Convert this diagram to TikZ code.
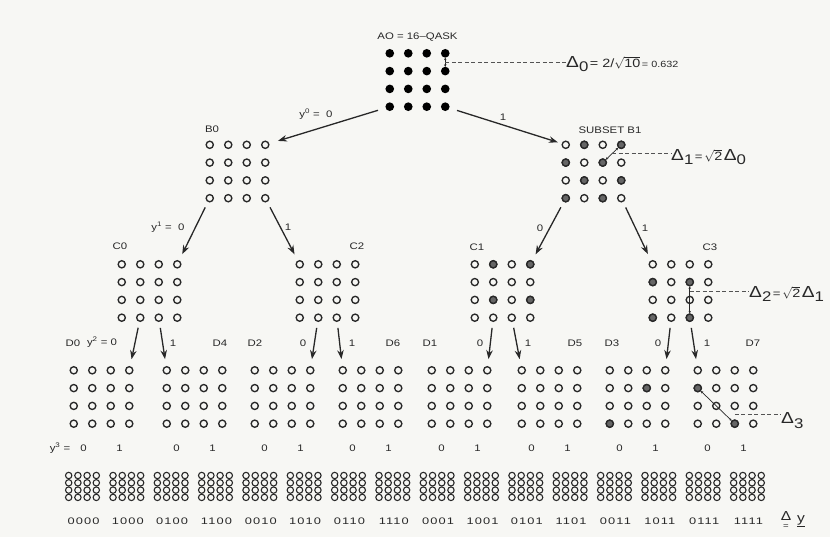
\documentclass[tikz,border=0pt]{standalone}
\usepackage{fontspec}
\setmainfont{Liberation Sans}[FakeStretch=1.2]
\newfontfamily\bitfont{Liberation Sans}[FakeStretch=1.35,LetterSpace=12]
\usetikzlibrary{arrows.meta,calc}

\definecolor{paper}{RGB}{247,247,244}
\definecolor{ink}{RGB}{40,40,40}

\tikzset{
  pt/.style={circle,draw=ink,line width=1.35pt,minimum size=7.2pt,inner sep=0pt},
  ptA/.style={pt,fill=black,draw=black},
  hitpt/.style={fill=black!60,draw=ink,line width=1.35pt},
  lbl/.style={font=\fontsize{9.5}{10}\selectfont,inner sep=0pt,text=ink},
  branch/.style={line width=1.3pt,draw=ink,-{Stealth[length=9pt,width=6.5pt]},
    shorten <=6pt,shorten >=7pt},
  gap/.style={line width=0.7pt,draw=ink,
    {Stealth[length=2.5pt,width=2.5pt]}-{Stealth[length=2.5pt,width=2.5pt]}},
  guide/.style={line width=0.7pt,draw=ink!80,dash pattern=on 4pt off 2.5pt},
}

% 4x4 subset of points, named <set>-<row>-<col>
\newcommand{\qset}[4][pt]{%
  \foreach \r in {1,...,4}
    \foreach \c in {1,...,4}
      \node[#1] (#2-\r-\c) at ({#3+(\c-2.5)*18.5},{#4+(\r-2.5)*17.8}) {};
}
% mark the points of a subset
\newcommand{\hit}[2]{%
  \foreach \p in {#2}
    \filldraw[hitpt] (#1-\p) circle (3.6pt);
}
\newcommand{\dlt}[1]{{\fontsize{16}{16}\selectfont Δ}\raisebox{-4.5pt}{\fontsize{14}{14}\selectfont #1}}

\begin{document}
\begin{tikzpicture}[x=1pt,y=-1pt]

  \fill[paper] (0,0) rectangle (830,537);
  \useasboundingbox (0,0) rectangle (830,537);

  % ---- A0 = 16-QASK ----
  \qset[ptA]{A0}{417.5}{80}
  \node[lbl] (A0name) at (417.5,37) {AO = 16--QASK};
  \draw[gap] (A0-1-4) -- (A0-2-4);
  \coordinate (m0) at ($(A0-1-4)!0.5!(A0-2-4)$);
  \node[lbl,anchor=base west] (delta0) at (566,67.5)
    {\dlt{0}\,{\fontsize{12}{12}\selectfont = 2/$\sqrt{\mbox{10}}$}\,{\fontsize{9}{9}\selectfont = 0.632}};
  \draw[guide] (m0) -- (m0 -| delta0.west);

  % ---- B0 and B1 ----
  \qset{B0}{237.5}{171.5}
  \qset{B1}{593.5}{171.5}
  \hit{B1}{1-2,1-4,2-1,2-3,3-2,3-4,4-1,4-3}
  \node[lbl] (B0name) at (212,129) {B0};
  \node[lbl] (B1name) at (610,130) {SUBSET B1};

  \draw[branch,shorten <=8pt,shorten >=9pt] (A0-4-1) -- (B0-1-4);
  \draw[branch,shorten <=8pt,shorten >=4pt] (A0-4-4) -- (B1-1-1);
  \node[lbl] (y0) at (316,114) {y\textsuperscript{0} =\ \ 0};
  \node[lbl] (y0one) at (503,117) {1};

  \draw[gap] (B1-2-3) -- (B1-1-4);
  \coordinate (m1) at ($(B1-2-3)!0.5!(B1-1-4)$);
  \node[lbl,anchor=base west] (delta1) at (671,160.5)
    {\dlt{1}\,{\fontsize{11}{11}\selectfont =}\,{\fontsize{12}{12}\selectfont$\sqrt{\mbox{2}}$}\,\dlt{0}};
  \draw[guide] (m1) -- (m1 -| delta1.west);

  % ---- C0 .. C3 ----
  \qset{C0}{149.5}{291}
  \qset{C2}{327.5}{291}
  \qset{C1}{502.5}{291}
  \qset{C3}{680.5}{291}
  \hit{C1}{1-2,1-4,3-2,3-4}
  \hit{C3}{2-1,2-3,4-1,4-3}
  \node[lbl] (C0name) at (120,246) {C0};
  \node[lbl] (C2name) at (357,246) {C2};
  \node[lbl] (C1name) at (477,247) {C1};
  \node[lbl] (C3name) at (710,247) {C3};

  \draw[branch] (B0-4-1) -- (C0-1-4);
  \draw[branch] (B0-4-4) -- (C2-1-1);
  \draw[branch] (B1-4-1) -- (C1-1-4);
  \draw[branch] (B1-4-4) -- (C3-1-1);
  \node[lbl] (y1) at (168,227) {y\textsuperscript{1} =\ \ 0};
  \node[lbl] (y1one) at (288,227) {1};
  \node[lbl] (y1zero) at (540,228) {0};
  \node[lbl] (y1oneb) at (645,228) {1};

  \draw[gap] (C3-2-3) -- (C3-4-3);
  \coordinate (m2) at ($(C3-2-3)!0.5!(C3-3-3)$);
  \node[lbl,anchor=base west] (delta2) at (749,297.5)
    {\dlt{2}\,{\fontsize{11}{11}\selectfont =}\,{\fontsize{12}{12}\selectfont$\sqrt{\mbox{2}}$}\,\dlt{1}};
  \draw[guide] (m2) -- (m2 -| delta2.west);

  % ---- D0 .. D7 ----
  \foreach \d/\x in {D0/101.5,D4/194.5,D2/282.5,D6/370.5,D1/459.5,D5/549.5,D3/637.5,D7/725.5} {
    \qset{\d}{\x}{397}
  }
  \hit{D3}{2-3,4-1}
  \hit{D7}{2-1,4-3}
  \foreach \d/\x in {D0/73,D4/220,D2/255,D6/393,D1/430,D5/575,D3/612,D7/753} {
    \node[lbl] (\d name) at (\x,343) {\d};
  }

  \draw[branch] (C0-4-2) -- (D0-1-4);
  \draw[branch] (C0-4-3) -- (D4-1-1);
  \draw[branch] (C2-4-2) -- (D2-1-4);
  \draw[branch] (C2-4-3) -- (D6-1-1);
  \draw[branch] (C1-4-2) -- (D1-1-4);
  \draw[branch] (C1-4-3) -- (D5-1-1);
  \draw[branch] (C3-4-2) -- (D3-1-4);
  \draw[branch] (C3-4-3) -- (D7-1-1);
  \node[lbl] (y2) at (102,342) {y\textsuperscript{2} = 0};
  \foreach \b/\x [count=\k] in {1/173,0/303,1/352,0/480,1/528,0/658,1/707} {
    \node[lbl] (y2bit\k) at (\x,343) {\b};
  }

  \draw[gap] (D7-2-1) -- (D7-4-3);
  \coordinate (m3) at ($(D7-3-3)!0.5!(D7-4-3)$);
  \node[lbl,anchor=base west] (delta3) at (781,423.5) {\dlt{3}};
  \draw[guide] (m3) -- (m3 -| delta3.west);

  % ---- y3 and the final points ----
  \node[lbl] (y3) at (60,448) {y\textsuperscript{3} =};
  \foreach \x [count=\k] in {101.5,194.5,282.5,370.5,459.5,549.5,637.5,725.5} {
    \node[lbl] (y3zero\k) at ({\x-18},448) {0};
    \node[lbl] (y3one\k) at ({\x+18},448) {1};
  }

  \foreach \bits [count=\j from 0] in {0000,1000,0100,1100,0010,1010,0110,1110,
                                      0001,1001,0101,1101,0011,1011,0111,1111} {
    \foreach \r in {0,...,3}
      \foreach \c in {0,...,3}
        \draw[ink,line width=1.1pt] ({82.5+44.33*\j+(\c-1.5)*9.2},{475.5+\r*7.3}) circle (3.2pt);
    \node[lbl,font=\bitfont\fontsize{9.5}{10}\selectfont] (bits\j) at ({83.5+44.33*\j},521) {\bits};
  }
  \node[lbl] (ydelta) at (786,516.5) {\fontsize{13}{13}\selectfont Δ};
  \node[lbl] (ydefeq) at (786,527) {\fontsize{8}{8}\selectfont =};
  \node[lbl,anchor=west] (yvec) at (797,521) {{\fontsize{13}{13}\selectfont\underline{y}}};

\end{tikzpicture}
\end{document}
